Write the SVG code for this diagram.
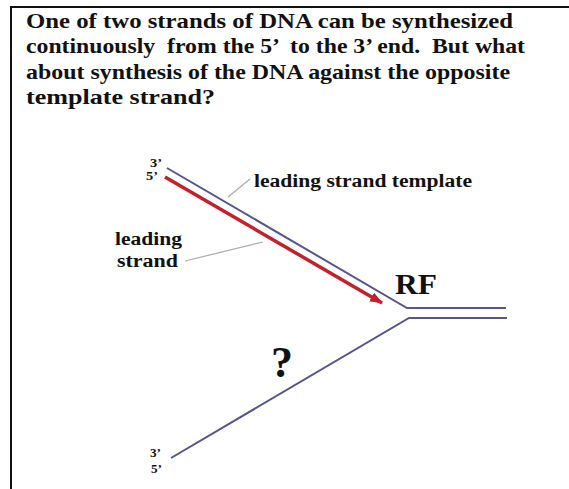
<svg xmlns="http://www.w3.org/2000/svg" width="569" height="489" viewBox="0 0 569 489">
<style>
.t{font-family:"Liberation Serif","Times New Roman",serif;font-weight:bold;fill:#111}
.h{font-size:21px}
.lbl{font-size:18px}
.end{font-size:12px}
.strand{stroke:#55558f;stroke-width:2;fill:none}
.lead{stroke:#aaa;stroke-width:1.2;fill:none}
</style>
<defs>
<marker id="ah" markerWidth="13" markerHeight="10" refX="12" refY="5" orient="auto" markerUnits="userSpaceOnUse">
<path d="M0,0 L13,5 L0,10 z" fill="#c4202a"/>
</marker>
</defs>
<rect width="569" height="489" fill="#fff"/>
<path d="M11,489 V7 H569" stroke="#111" stroke-width="2" fill="none"/>
<g id="title">
<text class="t h" x="26" y="28" textLength="487" lengthAdjust="spacingAndGlyphs">One of two strands of DNA can be synthesized</text>
<text class="t h" x="26" y="53" textLength="499" lengthAdjust="spacingAndGlyphs" xml:space="preserve">continuously  from the 5’  to the 3’ end.  But what</text>
<text class="t h" x="26" y="79" textLength="484" lengthAdjust="spacingAndGlyphs">about synthesis of the DNA against the opposite</text>
<text class="t h" x="26" y="104" textLength="189" lengthAdjust="spacingAndGlyphs">template strand?</text>
</g>
<g id="connectors">
<polyline id="template-top" class="strand" points="167,168 407,308 506,308"/>
<polyline id="template-bottom" class="strand" points="171,458 409,318 507,318"/>
<line id="leading-strand" x1="165" y1="177" x2="382" y2="303" stroke="#c4202a" stroke-width="3.5" marker-end="url(#ah)"/>
<line class="lead" x1="228" y1="197" x2="250" y2="179"/>
<line class="lead" x1="185" y1="261" x2="263" y2="242"/>
</g>
<g id="ends-top">
<text class="t end" x="150" y="167" textLength="12" lengthAdjust="spacingAndGlyphs">3’</text>
<text class="t end" x="146" y="180" textLength="12" lengthAdjust="spacingAndGlyphs">5’</text>
</g>
<g id="ends-bottom">
<text class="t end" x="150" y="457" textLength="11" lengthAdjust="spacingAndGlyphs">3’</text>
<text class="t end" x="151" y="473" textLength="11" lengthAdjust="spacingAndGlyphs">5’</text>
</g>
<g id="label-template">
<text class="t lbl" x="254" y="187" textLength="218" lengthAdjust="spacingAndGlyphs">leading strand template</text>
</g>
<g id="label-leading">
<text class="t lbl" x="115" y="245" textLength="67" lengthAdjust="spacingAndGlyphs">leading</text>
<text class="t lbl" x="117" y="267" textLength="61" lengthAdjust="spacingAndGlyphs">strand</text>
</g>
<g id="rf">
<text class="t" x="395" y="294" font-size="29" textLength="42" lengthAdjust="spacingAndGlyphs">RF</text>
</g>
<g id="question">
<text class="t" x="271" y="377" font-size="44">?</text>
</g>
</svg>
